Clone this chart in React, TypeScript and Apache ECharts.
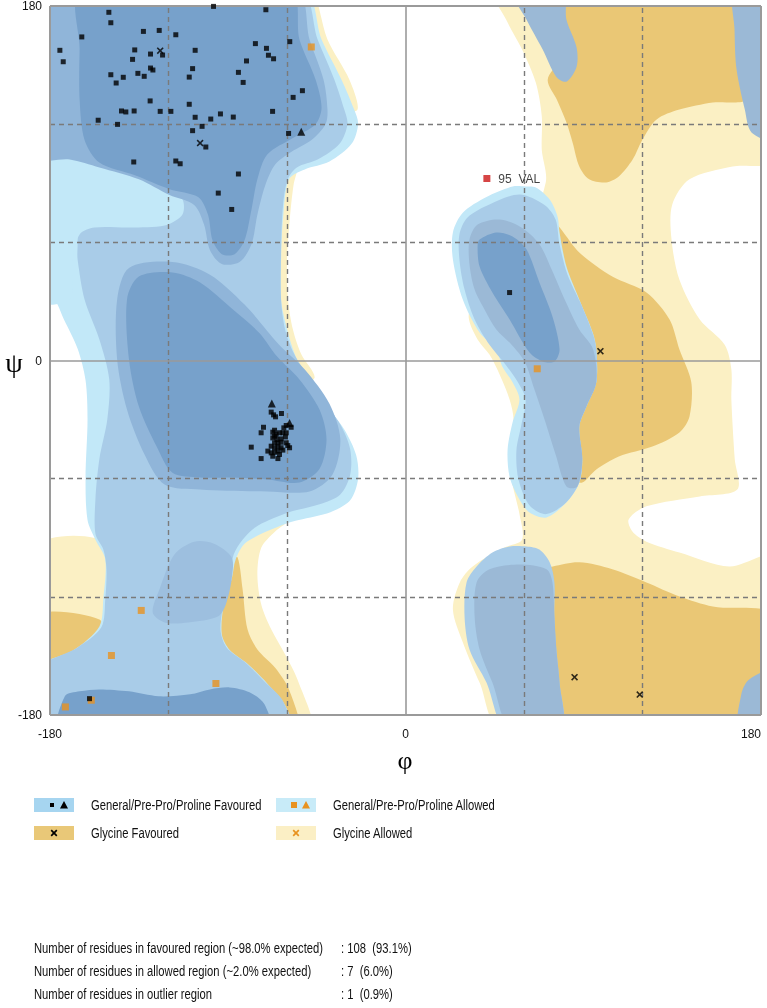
import React, { useEffect, useRef } from 'react';
import * as echarts from 'echarts';

// ---------- residues (phi, psi) ----------
const favouredSquares: number[][] = [
  [-150.2,176.8],[-149.2,171.5],[-97.2,179.8],[-70.7,178.1],[-163.9,164.3],[-132.7,167.1],[-124.7,167.6],[-116.3,165.4],
  [-175,157.5],[-173.3,151.7],[-137.1,157.7],[-129.1,155.6],[-123,155.1],[-106.5,157.5],[-138.2,152.9],[-76,160.9],
  [-70.4,158.5],[-69.4,155],[-66.8,153.2],[-80.5,152.1],[-58.6,161.9],[-129.1,148.5],[-127.9,147.5],[-135.5,145.8],
  [-132.3,144.3],[-149.2,145.1],[-142.9,143.8],[-146.5,140.9],[-107.8,148.2],[-109.5,143.9],[-84.6,146.3],[-82.2,141.2],
  [-52.2,137],[-56.9,133.6],[-129.3,131.8],[-109.5,130.1],[-143.8,126.7],[-141.6,126.2],[-137.4,126.7],[-124.2,126.5],
  [-118.8,126.5],[-67.3,126.5],[-155.6,122],[-145.8,119.9],[-106.5,123.5],[-103,118.9],[-98.6,122.6],[-93.7,125.2],
  [-87.2,123.6],[-107.8,116.7],[-101.1,108.4],[-59.2,115.3],[-137.6,100.8],[-116.3,101.3],[-114.1,99.9],[-84.6,94.7],
  [-94.8,85],[-88,76.7],
  [-68,-26.2],[-66.8,-27.6],[-65.8,-28.6],[-62.8,-26.9],[-60.4,-33],[-57.9,-33.9],[-61.6,-34.2],[-71.9,-33.9],
  [-73.1,-36.7],[-66.3,-35.4],[-65.5,-37.6],[-63.8,-36.7],[-62.1,-36.7],[-67.2,-39.3],[-65.1,-40.1],[-63,-39.8],
  [-60.8,-38.8],[-66.3,-41.8],[-64.6,-41.8],[-63,-41.5],[-60.4,-41.8],[-59.6,-43.2],[-78.1,-44],[-68,-43.5],
  [-66.3,-44.3],[-64.6,-43.8],[-63,-44.3],[-58.7,-44.3],[-69.7,-46],[-68,-46.9],[-66.3,-46.6],[-64.6,-46],
  [-63.8,-47.7],[-73.1,-49.8],[-64.6,-49.8],[-62.1,-45.5],[-67.2,-48.6],[-60.4,-36.7],[-66.3,-38.4],[-67.2,-36.4],
  [52.7,34.5],[-160,-171.7],
];
const favouredTriangles: number[][] = [[-52.8,116.2],[-67.7,-21.8],[-58.7,-31.7]];
const glycineFavoured: number[][] = [[-124.2,157.3],[-104,110.4],[98.7,4.7],[85.6,-160.8],[118.6,-169.6]];
const allowedSquares: number[][] = [[-47.7,159.2],[66.7,-4.2],[-133.8,-126.9],[-148.9,-149.8],[-96,-164],[-172.2,-175.9],[-159.1,-172.5]];
const outlierNames: string[] = ['95  VAL'];
const outlierValues: number[][] = [[41.2,92.4]];

const axisTicks: number[] = [-180, 0, 180];
const dashedLines: number[] = [-120, -60, 60, 120];
const solidLines: number[] = [-180, 0, 180];

// ---------- region contours (phi, psi) ----------
const glyAllowedTopStrip = [[-53.7,180],[-47,180],[-39.5,163],[-28.4,142.6],[-24.3,127.4],[-33.4,127.4],[-43.5,153]];
const glyAllowedMidStrip = [[-54.7,98],[-56.7,89],[-58.6,71.6],[-60,51],[-59.5,31],[-57,15.7],[-52.7,3],[-46,-8.6],[-53.7,-12],[-69,31],[-66,81.7]];
const glyAllowedLowerLeft = [[-180,-95],[-151,-93.4],[-151,-146.7],[-180,-167]];
const glyAllowedLowerMid = [[-59,-81],[-66,-86.8],[-73,-95],[-75,-108.6],[-73,-124],[-68,-136.5],[-61,-149.2],[-54.7,-162],[-47,-180],[-64,-180],[-89,-146.7],[-93,-121],[-84,-93.4],[-69,-82]];
const glyAllowedRight = [[45,180],[180,180],[180,102],[165.6,98.5],[143.8,92],[135,79],[134.7,61.4],[138.7,41],[149,20.8],[161.6,8],[165,-4.6],[165,-20],[166.7,-50],[168,-65.5],[149,-69],[122,-74],[113,-80.7],[115,-87],[122,-92],[138.7,-97.5],[164,-104.6],[180,-99.5],[180,-180],[49,-180],[37.5,-163.5],[29,-143],[24,-126.4],[27.5,-112.7],[34,-104.6],[50,-95],[59,-91],[57.7,-78],[53.7,-60.4],[52.7,-45],[54.7,-30],[52.7,-19.8],[47.6,-7],[42.5,3],[36.5,10.7],[32,21.8],[35,31],[57.7,56.3],[71,90.4],[69,107],[69,124],[66,141],[59,158],[51,173]];
const glyFavLowerLeft = [[-180,-130],[-155,-131.5],[-155,-144],[-180,-167]];
const glyFavLowerMid = [[-88,-101],[-85,-100],[-82.5,-116],[-80,-136.5],[-75,-146.7],[-66,-156],[-59,-167],[-53.7,-180],[-66,-180],[-79,-167],[-89,-151.8],[-94,-141.6],[-93,-121],[-90,-108.6]];
const glyFavRightTop = [[78,180],[169,180],[167.6,166.5],[170.6,149],[172.7,132.5],[155.6,131],[138.7,127.4],[127,122.3],[120,112.2],[115,102],[108,93.4],[101.6,90.4],[93,92],[88,98.5],[84.6,110.7],[81.5,120.8],[76.6,132.5],[72,142.6],[78,152.8],[80.6,168]];
const glyFavRightMid = [[75.6,69],[88,54.8],[104.7,42.6],[122,34.5],[133.7,20.8],[138.7,5.6],[144.7,-11],[143.8,-28.4],[138.7,-36.5],[125,-43.7],[108,-48.7],[96.6,-55.3],[89.5,-62],[85.6,-60.4],[83,-30],[78,31]];
const glyFavRightBottom = [[70.5,-106],[74.6,-104.6],[88,-102.5],[104.7,-106],[122,-112.7],[138.7,-119.8],[155.6,-124.9],[180,-130],[180,-180],[70.5,-180]];

const genOuterLeft = [[-180,180],[-52,180],[-42.5,163],[-32.4,142.6],[-26,127.4],[-24,120],[-27.3,110],[-38.5,101],[-51,97],[-59,92],[-62,72],[-63,51],[-63,31],[-60,16],[-56,3],[-50,-10],[-41,-22],[-31,-35],[-25,-48],[-24,-60],[-28,-71],[-38,-77],[-54,-81],[-61,-83],[-73,-88],[-81.5,-93],[-86,-101],[-88,-111],[-92,-124],[-93,-139],[-89,-147],[-80,-154],[-70,-164],[-61,-175],[-58,-180],[-180,-180],[-180,-157],[-168,-147],[-155,-135],[-153,-121],[-152,-101],[-157,-91],[-161,-81],[-162,-60],[-161,-30],[-162,-10],[-166,6],[-173,21],[-178,31],[-180,36]];
const genLightLeft = [[-180,180],[-53.7,180],[-44.5,163],[-36,142.6],[-31,127.4],[-29.4,120],[-33.4,110],[-44.5,102],[-55,98],[-59.6,92],[-62,79],[-63,56],[-63,31],[-61,16],[-57,4.6],[-51,-5.6],[-42.5,-19],[-33,-32.5],[-28,-45],[-28,-58],[-33,-68],[-43.5,-73],[-59,-77],[-69,-81],[-76.5,-85],[-82.5,-91],[-87,-98.5],[-89,-108.6],[-91.6,-121],[-93.7,-136.5],[-90.6,-145.7],[-81.5,-153],[-71.4,-163],[-62,-173],[-59,-180],[-180,-180],[-180,-158],[-166,-145.7],[-154,-135.5],[-152,-121],[-151.4,-106],[-153,-96],[-157,-88],[-157,-70.6],[-155,-50],[-151,-30],[-150,-9.6],[-155,10.7],[-162.5,31],[-166,51],[-167.6,67.5],[-180,74]];
const genCyanPatch = [[-180,107],[-160,101],[-138,95],[-121,87],[-113,82],[-113,74],[-122,68.5],[-139.5,67.5],[-157.5,67.5],[-165,64],[-168.6,51],[-170,31],[-180,31]];
const genMedBeta = [[-180,180],[-55.7,180],[-48.6,163],[-41.5,142.6],[-39.5,127.4],[-40.5,120],[-47.6,112],[-57.7,106],[-66,99.5],[-71,89],[-75,74],[-78,59],[-84,50],[-93,49],[-99,56],[-102,69],[-107,79],[-119.5,84],[-135,92],[-155,98],[-170,102],[-180,103.5]];
const genCoreBeta = [[-164,180],[-58.6,180],[-53.7,163],[-45.5,142.6],[-42.5,128.4],[-45.5,120],[-57,113],[-70,104.6],[-75,92],[-78,76.6],[-81.5,61],[-86.5,54],[-93,54],[-97.7,61],[-100,74],[-105,83],[-119.5,87],[-137,94],[-155,100.5],[-162.5,112],[-165,132.5],[-165,158]];
const genMedAlpha = [[-146,31],[-140,47],[-118,50],[-99,43.6],[-81.5,28.4],[-64,8],[-51,-4.6],[-38.5,-22],[-33,-40],[-37,-58],[-48.6,-66.5],[-70,-66.5],[-104,-65.5],[-122,-63],[-132,-48],[-141,-25],[-146,0.5]];
const genCoreAlpha = [[-141,31],[-135,42.6],[-118,44.7],[-104,39.6],[-87.5,26],[-74,14],[-65,2],[-53.7,-9.6],[-43.5,-25],[-40,-40],[-43.5,-55],[-53.7,-62],[-70,-60.4],[-87.5,-59.4],[-104,-59.4],[-118,-57],[-126,-43.7],[-135,-23.4],[-140,0.5]];
const genMedLower = [[-128,-128],[-124.5,-116],[-117,-98.5],[-107,-92],[-97,-93],[-88,-100],[-88,-111],[-91,-124],[-95,-130],[-110,-133],[-122,-133]];
const genCoreLower = [[-175,-180],[-172.5,-170.5],[-165,-168],[-155,-167],[-140,-168],[-125,-170.5],[-109,-169.5],[-99,-167],[-89,-166],[-79,-168.5],[-71.4,-174.6],[-69,-180]];

const genOuterRight = [[61,88.3],[66,87.8],[73,81.7],[77,73],[78,65],[81.5,47.7],[88,31],[94.8,14.2],[96.6,5.6],[96.6,-11],[91.6,-23.4],[88,-33.5],[89.5,-50.3],[88,-62],[81.5,-72],[71.4,-79.7],[62.8,-77.2],[57.7,-70.6],[52.7,-59],[51.7,-45.2],[54.2,-31.5],[57.7,-19.8],[54.2,-11],[49,-3],[46,5.6],[37.5,14.2],[29,31],[24,51.3],[24,65],[29,75],[41,83],[54.2,88.3]];
const genLightRight = [[57.7,84.3],[70.4,79],[76,71.6],[78,59],[82,43.7],[89,28.4],[95,13.2],[96.6,5.6],[96.6,-11],[91.6,-23.4],[88,-33.5],[89.5,-50.3],[88,-62],[81.5,-72],[71.4,-78],[63.8,-74.6],[59.7,-68],[56.7,-57.9],[56.2,-45.2],[58.7,-32.5],[60.8,-19.8],[56.7,-10.7],[50.6,-2],[42.5,8],[35,20.8],[29.9,36],[27.3,51.3],[27.3,64],[31.4,72.6],[42.5,79.2]];
const genMedRight = [[36.5,69],[47.6,71.6],[58.7,67.5],[67.8,59],[74,46.2],[80.6,31],[88,15.7],[95,5.6],[96.6,-11],[91.6,-23.4],[88,-33.5],[89.5,-50.3],[87,-64],[81.5,-64],[76,-47.7],[70.4,-30],[65.3,-14.7],[60.3,-0.5],[53.7,8],[46,15.7],[40,25.9],[35,36],[32.4,48.7],[32.4,61.4]];
const genCoreRight = [[37.5,61.4],[46,65],[54.2,63],[61.3,56.3],[67.8,39.6],[74.4,22.3],[78,5.6],[75.5,-0.5],[69.4,-0.5],[62.8,4],[52.7,20.8],[44,34.5],[37.5,47.7],[36.5,57.9]];
const genFingerTop = [[54.2,180],[61.3,173],[69.4,158],[76.4,144],[81.5,141.6],[86.6,149],[86.6,159],[81.5,173],[79.5,180]];
const genCornerTopRight = [[166.6,180],[180,180],[180,112],[175.3,115.7],[171.8,127.4],[167.6,148],[166.6,168]];
const genCornerBottomRight = [[180,-157],[180,-180],[169,-180],[170,-169.6],[174,-162]];
const genOuterLowerRight = [[52.7,-94.4],[61.3,-94.4],[67.8,-96],[73,-102.5],[75.4,-112.7],[75.4,-130],[76.4,-146.7],[78,-163.5],[79,-180],[51.1,-180],[41,-163.5],[32.4,-146.7],[29.9,-130],[30.9,-112.7],[36,-104.6],[44,-97.5]];
const genMedLowerRight = [[36,-112.7],[42.5,-106],[57.7,-103.6],[71.4,-106],[74.4,-112.7],[75.4,-130],[76.4,-146.7],[78,-163.5],[79,-180],[53.7,-180],[44,-163.5],[37.5,-146.7],[35,-130]];

const statLabels = [
  'Number of residues in favoured region (~98.0% expected)',
  'Number of residues in allowed region (~2.0% expected)',
  'Number of residues in outlier region',
];
const statValues = [': 108  (93.1%)', ': 7  (6.0%)', ': 1  (0.9%)'];

const YEL = '#fbf0c4';
const ORA = '#eac775';
const CYAN = '#c2e8f8';
const LIGHT = '#a9cce8';
const MED = '#90b5d9';
const DARK = '#77a1cb';
const MEDY = '#9bb9d6';

const layers = [
  { pts: glyAllowedTopStrip, fill: YEL },
  { pts: glyAllowedMidStrip, fill: YEL },
  { pts: glyAllowedLowerLeft, fill: YEL },
  { pts: glyAllowedLowerMid, fill: YEL },
  { pts: glyAllowedRight, fill: YEL },
  { pts: glyFavLowerLeft, fill: ORA },
  { pts: glyFavLowerMid, fill: ORA },
  { pts: glyFavRightTop, fill: ORA },
  { pts: glyFavRightMid, fill: ORA },
  { pts: glyFavRightBottom, fill: ORA },
  { pts: genOuterLeft, fill: CYAN },
  { pts: genLightLeft, fill: LIGHT },
  { pts: genCyanPatch, fill: CYAN },
  { pts: genMedBeta, fill: MED },
  { pts: genCoreBeta, fill: DARK },
  { pts: genMedAlpha, fill: MED },
  { pts: genCoreAlpha, fill: DARK },
  { pts: genMedLower, fill: '#9dbfdf' },
  { pts: genCoreLower, fill: DARK },
  { pts: genOuterRight, fill: CYAN },
  { pts: genLightRight, fill: LIGHT },
  { pts: genMedRight, fill: MEDY },
  { pts: genCoreRight, fill: DARK },
  { pts: genFingerTop, fill: MEDY },
  { pts: genCornerTopRight, fill: MEDY },
  { pts: genCornerBottomRight, fill: MEDY },
  { pts: genOuterLowerRight, fill: LIGHT },
  { pts: genMedLowerRight, fill: MEDY },
];

const SANS = '"Liberation Sans", Arial, sans-serif';
const TEXT_FONT = `15px ${SANS}`;
const NARROW_SCALE = 0.75;
const X_PATH = 'path://M0,1.6L1.6,0L5,3.4L8.4,0L10,1.6L6.6,5L10,8.4L8.4,10L5,6.6L1.6,10L0,8.4L3.4,5Z';

function narrowText(x: number, y: number, text: string): any {
  return {
    type: 'text', x, y, scaleX: NARROW_SCALE,
    style: { text, fill: '#111', font: TEXT_FONT, textVerticalAlign: 'middle', verticalAlign: 'middle' },
  };
}

function legendItems(): any[] {
  const g: any[] = [];
  const rows = [
    { x: 34, y: 798, fill: '#a6d5f0', text: 'General/Pre-Pro/Proline Favoured', mark: '#000', kind: 'sq' },
    { x: 276, y: 798, fill: '#c8ebf8', text: 'General/Pre-Pro/Proline Allowed', mark: '#e8921f', kind: 'sq' },
    { x: 34, y: 826, fill: '#e9c878', text: 'Glycine Favoured', mark: '#000', kind: 'x' },
    { x: 276, y: 826, fill: '#fbefc5', text: 'Glycine Allowed', mark: '#e8921f', kind: 'x' },
  ];
  rows.forEach((r, i) => {
    g.push({ type: 'rect', shape: { x: r.x, y: r.y, width: 40, height: 14 }, style: { fill: r.fill } });
    const cy = r.y + 7;
    if (r.kind === 'sq') {
      const s = i === 0 ? 4 : 6;
      g.push({ type: 'rect', shape: { x: r.x + 18 - s / 2, y: cy - s / 2, width: s, height: s }, style: { fill: r.mark } });
      g.push({ type: 'polygon', shape: { points: [[r.x + 30, cy - 4], [r.x + 26, cy + 3.5], [r.x + 34, cy + 3.5]] }, style: { fill: r.mark } });
    } else {
      const cx = r.x + 20;
      g.push({ type: 'line', shape: { x1: cx - 2.8, y1: cy - 2.8, x2: cx + 2.8, y2: cy + 2.8 }, style: { stroke: r.mark, lineWidth: 1.7 } });
      g.push({ type: 'line', shape: { x1: cx + 2.8, y1: cy - 2.8, x2: cx - 2.8, y2: cy + 2.8 }, style: { stroke: r.mark, lineWidth: 1.7 } });
    }
    g.push(narrowText(r.x + 57, cy, r.text));
  });
  return g;
}

function statItems(): any[] {
  const g: any[] = [];
  const ys = [948, 971, 994];
  statLabels.forEach((t, i) => {
    g.push(narrowText(34, ys[i], t));
    g.push(narrowText(341, ys[i], statValues[i]));
  });
  return g;
}

export default function App() {
  const ref = useRef<HTMLDivElement>(null);
  useEffect(() => {
    if (!ref.current) return;
    const chart = echarts.init(ref.current, undefined, { renderer: 'svg' });
    const ext = (v: number) => (v >= 180 ? 188 : v <= -180 ? -188 : v);
    const lineData: any[] = [];
    dashedLines.forEach((v) => {
      lineData.push({ xAxis: v, lineStyle: { type: [5, 4], color: '#7a7a7a', width: 1.4 } });
      lineData.push({ yAxis: v, lineStyle: { type: [5, 4], color: '#7a7a7a', width: 1.4 } });
    });
    solidLines.forEach((v) => {
      lineData.push({ xAxis: v, lineStyle: { type: 'solid', color: '#9a9a9a', width: v === 0 ? 1.6 : 2 } });
      lineData.push({ yAxis: v, lineStyle: { type: 'solid', color: '#9a9a9a', width: v === 0 ? 1.6 : 2 } });
    });
    chart.setOption({
      animation: false,
      grid: { left: 50, top: 6, width: 711, height: 709 },
      xAxis: {
        type: 'value', min: -180, max: 180, interval: 180,
        axisLine: { show: false }, axisTick: { show: false }, splitLine: { show: false },
        axisLabel: { fontSize: 12, color: '#111', fontFamily: SANS, margin: 13, alignMaxLabel: 'right',
          formatter: (v: number) => (axisTicks.includes(v) ? String(v) : '') },
      },
      yAxis: {
        type: 'value', min: -180, max: 180, interval: 180,
        axisLine: { show: false }, axisTick: { show: false }, splitLine: { show: false },
        axisLabel: { fontSize: 12, color: '#111', fontFamily: SANS, margin: 8,
          formatter: (v: number) => (axisTicks.includes(v) ? String(v) : '') },
      },
      graphic: [
        { type: 'text', x: 14, y: 362, style: { text: 'ψ', font: '28px "Liberation Serif", "DejaVu Serif", serif', fill: '#000', textAlign: 'center', align: 'center', textVerticalAlign: 'middle', verticalAlign: 'middle' } },
        { type: 'text', x: 405, y: 760, style: { text: 'φ', font: '26px "Liberation Serif", "DejaVu Serif", serif', fill: '#000', textAlign: 'center', align: 'center', textVerticalAlign: 'middle', verticalAlign: 'middle' } },
        ...legendItems(),
        ...statItems(),
      ],
      series: [
        {
          type: 'custom', name: 'regions', clip: true, z: 1, silent: true,
          data: layers.map((_, i) => [0, 0, i]),
          renderItem: (params: any, api: any) => {
            const layer = layers[params.dataIndex];
            return {
              type: 'polygon',
              shape: { points: layer.pts.map((p) => api.coord([ext(p[0]), ext(p[1])])), smooth: 0.3 },
              style: { fill: layer.fill, stroke: null },
            };
          },
        },
        {
          type: 'line', name: 'lines', data: [[0, 0]], showSymbol: false, z: 3, silent: true,
          lineStyle: { width: 0 },
          markLine: { silent: true, symbol: ['none', 'none'], label: { show: false }, animation: false, data: lineData },
        },
        {
          type: 'scatter', name: 'Allowed', data: allowedSquares, symbol: 'rect', symbolSize: 7, z: 5,
          itemStyle: { color: '#e8921f' },
        },
        {
          type: 'scatter', name: 'Favoured', data: favouredSquares, symbol: 'rect', symbolSize: 5, z: 6,
          itemStyle: { color: '#000' },
        },
        {
          type: 'scatter', name: 'Favoured triangles', data: favouredTriangles, symbol: 'triangle', symbolSize: 8, z: 6,
          itemStyle: { color: '#000' },
        },
        {
          type: 'scatter', name: 'Glycine favoured', data: glycineFavoured, symbol: X_PATH, symbolSize: 7, z: 6,
          itemStyle: { color: '#000' },
        },
        {
          type: 'scatter', name: 'Outlier', symbol: 'rect', symbolSize: 7, z: 7,
          data: outlierValues.map((v, i) => ({ name: outlierNames[i], value: v })),
          itemStyle: { color: '#cc1616' },
          label: { show: true, position: 'right', distance: 8, formatter: '{b}', fontSize: 12, fontFamily: SANS, color: '#111' },
        },
      ],
    });
    return () => chart.dispose();
  }, []);
  return <div ref={ref} style={{ position: 'fixed', left: 0, top: 0, width: 767, height: 1008 }} />;
}
